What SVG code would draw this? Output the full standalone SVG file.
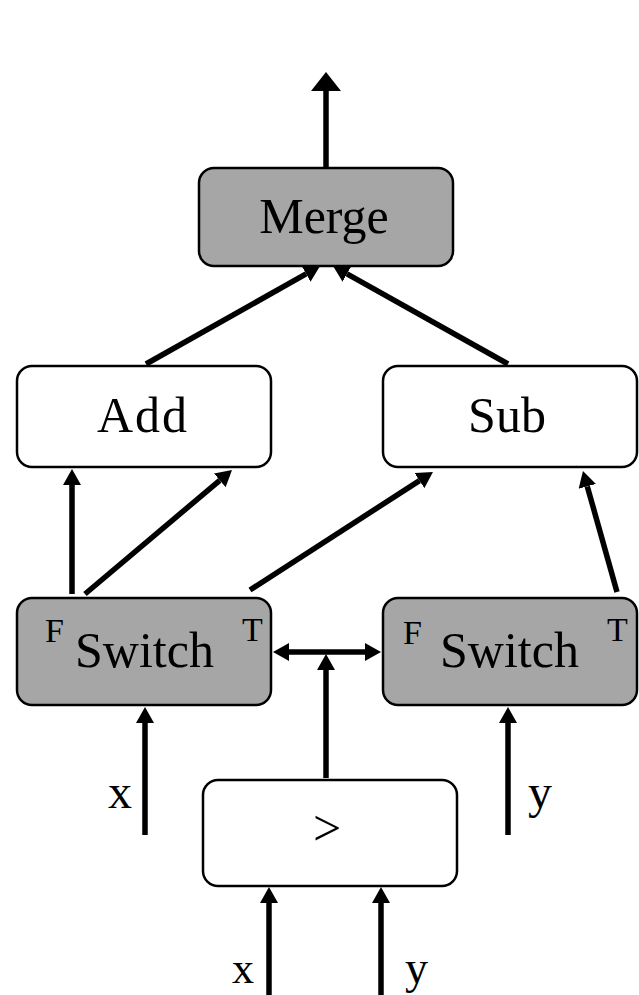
<svg xmlns="http://www.w3.org/2000/svg" width="639" height="995" viewBox="0 0 639 995">
<defs>
<style>
.box{stroke:#000;stroke-width:2.5}
.w{fill:#fff}
.g{fill:#a6a6a6}
.t{font-family:"Liberation Serif","Times New Roman",serif;fill:#000}
.c{stroke:#000;stroke-width:5.5;fill:none}
</style>
<marker id="ah" markerUnits="userSpaceOnUse" viewBox="0 0 16 18" refX="0" refY="9" markerWidth="16" markerHeight="18" orient="auto">
<path d="M0,0 L16,9 L0,18 z" fill="#000"/>
</marker>
<marker id="ahs" markerUnits="userSpaceOnUse" viewBox="0 0 16 18" refX="0" refY="9" markerWidth="16" markerHeight="18" orient="auto-start-reverse">
<path d="M0,0 L16,9 L0,18 z" fill="#000"/>
</marker>
<marker id="big" markerUnits="userSpaceOnUse" viewBox="0 0 19 30" refX="0" refY="15" markerWidth="19" markerHeight="30" orient="auto">
<path d="M0,0 L19,15 L0,30 z" fill="#000"/>
</marker>
</defs>

<g id="connectors">
<line class="c" x1="326" y1="168" x2="326" y2="91" marker-end="url(#big)"/>
<line class="c" x1="146" y1="364" x2="306.1" y2="273.9" marker-end="url(#ah)"/>
<line class="c" x1="508" y1="364" x2="347" y2="273.8" marker-end="url(#ah)"/>
<line class="c" x1="72" y1="594" x2="72" y2="485" marker-end="url(#ah)"/>
<line class="c" x1="85" y1="594" x2="219.8" y2="480.3" marker-end="url(#ah)"/>
<line class="c" x1="250" y1="590" x2="419.5" y2="480.6" marker-end="url(#ah)"/>
<line class="c" x1="617" y1="592" x2="587.3" y2="486.4" marker-end="url(#ah)"/>
<line class="c" x1="289" y1="652" x2="365" y2="652" marker-start="url(#ahs)" marker-end="url(#ah)"/>
<line class="c" x1="326" y1="778" x2="326" y2="670" marker-end="url(#ah)"/>
<line class="c" x1="145" y1="835" x2="145" y2="723" marker-end="url(#ah)"/>
<line class="c" x1="508" y1="835" x2="508" y2="723" marker-end="url(#ah)"/>
<line class="c" x1="269" y1="995" x2="269" y2="903" marker-end="url(#ah)"/>
<line class="c" x1="381" y1="995" x2="381" y2="903" marker-end="url(#ah)"/>
</g>

<g id="merge">
<rect class="box g" x="199" y="168" width="254" height="98" rx="15"/>
<text class="t" x="324" y="233" font-size="50" text-anchor="middle">Merge</text>
</g>

<g id="add">
<rect class="box w" x="17" y="366" width="254" height="101" rx="15"/>
<text class="t" x="143" y="432" font-size="50" text-anchor="middle" letter-spacing="2">Add</text>
</g>

<g id="sub">
<rect class="box w" x="383" y="366" width="254" height="101" rx="15"/>
<text class="t" x="507" y="432" font-size="50" text-anchor="middle">Sub</text>
</g>

<g id="switch-left">
<rect class="box g" x="17" y="598" width="254" height="107" rx="15"/>
<text class="t" x="45" y="642" font-size="34">F</text>
<text class="t" x="75" y="667" font-size="50">Switch</text>
<text class="t" x="242" y="641" font-size="34">T</text>
</g>

<g id="switch-right">
<rect class="box g" x="383" y="598" width="254" height="107" rx="15"/>
<text class="t" x="403" y="644" font-size="34">F</text>
<text class="t" x="440" y="667" font-size="50">Switch</text>
<text class="t" x="607" y="641" font-size="34">T</text>
</g>

<g id="compare">
<rect class="box w" x="203" y="780" width="254" height="106" rx="15"/>
<text class="t" x="327" y="845" font-size="50" text-anchor="middle">&gt;</text>
</g>

<g id="labels">
<text class="t" x="108" y="808" font-size="48">x</text>
<text class="t" x="528" y="808" font-size="48">y</text>
<text class="t" x="232" y="983" font-size="44">x</text>
<text class="t" x="405" y="983" font-size="46">y</text>
</g>
</svg>
